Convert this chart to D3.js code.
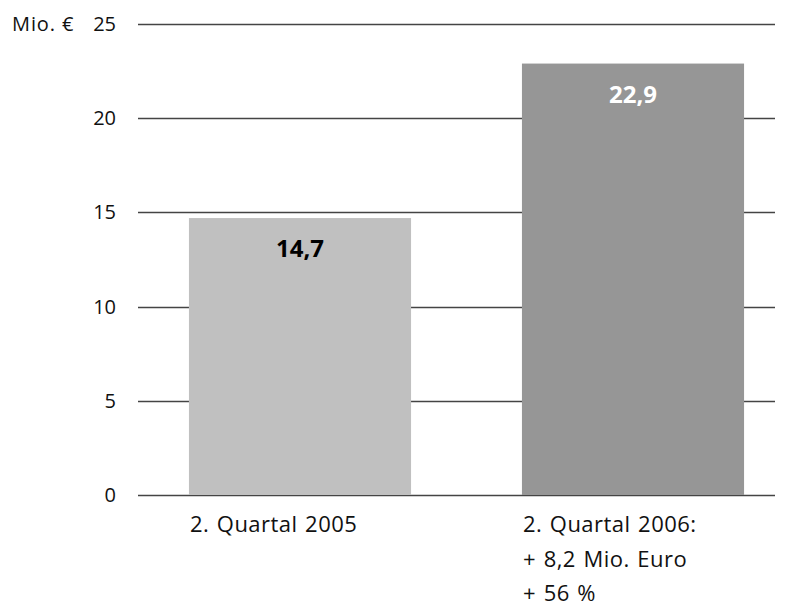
<!DOCTYPE html>
<html><head><meta charset="utf-8">
<script src="https://cdn.jsdelivr.net/npm/d3@7"></script>
<style>body{margin:0;background:#fff}svg{display:block}text{font-family:"Open Sans","Noto Sans",sans-serif}</style>
</head><body><svg id="c" width="790" height="605"></svg>
<script>
const categories = ["2. Quartal 2005", "2. Quartal 2006"];
const values = [14.7, 22.9];
const valueLabels = ["14,7", "22,9"];
const categoryLines = [["2. Quartal 2005"], ["2. Quartal 2006:", "+ 8,2 Mio. Euro", "+ 56 %"]];
const ticks = [0, 5, 10, 15, 20, 25];
const unitLabel = "Mio. €";
const barColors = ["#c0c0c0", "#969696"];
const labelColors = ["#000", "#fff"];

const svg = d3.select("#c");
const y = d3.scaleLinear().domain([0, 25]).range([495, 24]);
const x = d3.scaleBand().domain(categories).range([133, 800]).paddingInner(0.333).paddingOuter(0.168);

// gridlines
svg.append("g").selectAll("line").data(ticks).join("line")
  .attr("x1", 138).attr("x2", 775)
  .attr("y1", d => Math.round(y(d)) + 0.5).attr("y2", d => Math.round(y(d)) + 0.5)
  .attr("stroke", "#444").attr("stroke-width", 1.3);

// tick labels
svg.append("g").selectAll("text").data(ticks).join("text")
  .attr("x", 116).attr("y", d => y(d) + 7)
  .attr("text-anchor", "end").attr("font-size", 20).attr("fill", "#111")
  .text(d => d);
svg.append("text").attr("x", 12).attr("y", y(25) + 7).attr("font-size", 20)
  .attr("letter-spacing", 0.9).attr("fill", "#111").text(unitLabel);

// bars
svg.append("g").selectAll("rect").data(values).join("rect")
  .attr("x", (d, i) => x(categories[i]))
  .attr("width", x.bandwidth())
  .attr("y", d => y(d))
  .attr("height", d => y(0) - y(d))
  .attr("fill", (d, i) => barColors[i]);

// value labels
svg.append("g").selectAll("text").data(values).join("text")
  .attr("x", (d, i) => x(categories[i]) + x.bandwidth() / 2)
  .attr("y", d => y(d) + 39)
  .attr("text-anchor", "middle").attr("font-size", 24).attr("font-weight", "bold")
  .attr("fill", (d, i) => labelColors[i])
  .text((d, i) => valueLabels[i]);

// category labels
categoryLines.forEach((lines, i) => {
  const t = svg.append("text").attr("font-size", 22).attr("letter-spacing", 0.45)
    .attr("word-spacing", 1.5).attr("fill", "#111");
  lines.forEach((l, j) => {
    t.append("tspan").attr("x", x(categories[i]) + 1).attr("y", 532 + j * 34.5).text(l);
  });
});
</script></body></html>
